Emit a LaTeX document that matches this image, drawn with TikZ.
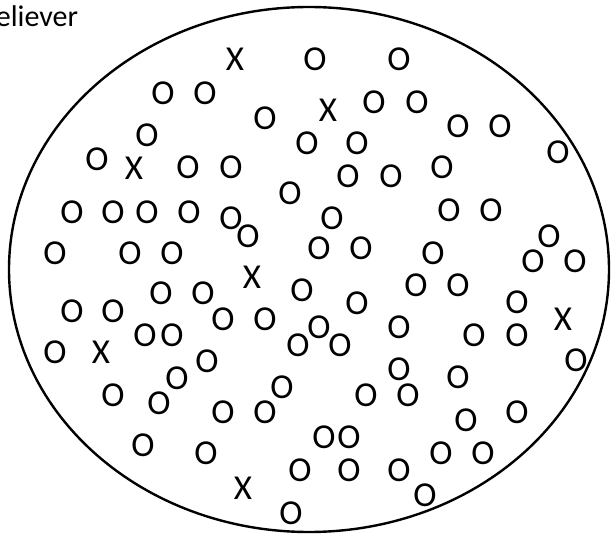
\documentclass[tikz,border=0pt]{standalone}
\usepackage{fontspec}
\setmainfont{Carlito}
\usetikzlibrary{shapes.geometric}
\begin{document}
\begin{tikzpicture}[x=1pt,y=-1pt,
  mk/.style={inner sep=0pt,outer sep=0pt,anchor=center,font=\fontsize{35}{35}\selectfont},
  lbl/.style={inner sep=0pt,outer sep=0pt,anchor=base east,font=\fontsize{30}{30}\selectfont},
  rim/.style={draw=black,line width=2.4pt}]
\useasboundingbox (0,0) rectangle (611,537);
\node[rim,ellipse,minimum width=600pt,minimum height=525pt,inner sep=0pt] (set) at (309,269.5) {};
\node[lbl] (title) at (78,27) {eliever};
\foreach \t/\x/\y [count=\i] in {
X/235/59, O/163/93, O/205/93, O/265/118, O/147/135, O/97/159, X/134/168, O/188/167, O/231/167,
O/315/59, O/399/59, X/328/110, O/374/102, O/417/102, O/458/126, O/500/126, O/558/152,
O/307/143, O/357/143, O/348/176, O/391/176, O/442/167, O/290/193,
O/72/212, O/113/212, O/147/212, O/189/212, O/231/218, O/248/236,
O/55/253, O/130/253, O/172/253, X/252/277, O/161/293, O/203/293, O/302/290,
O/72/311, O/113/311, O/223/319, O/265/319, O/145/335, O/172/335, O/298/345,
O/55/352, X/101/352, O/207/361, O/177/378,
O/332/218, O/449/210, O/491/210, O/319/248, O/361/248, O/433/253,
O/549/236, O/533/261, O/575/261, O/357/303, O/416/285, O/458/285, O/517/302,
X/563/319, O/319/327, O/340/345, O/399/327, O/474/335, O/517/335, O/576/360,
O/399/369, O/458/377, O/113/395, O/159/403, O/223/412, O/265/412, O/282/387,
O/143/445, O/206/453, X/243/488, O/291/513, O/300/470,
O/366/395, O/408/395, O/466/420, O/517/412, O/324/437, O/349/437,
O/349/470, O/399/470, O/441/453, O/483/453, O/425/495}
  \node[mk] (m\i) at (\x,\y) {\t};
\end{tikzpicture}
\end{document}
